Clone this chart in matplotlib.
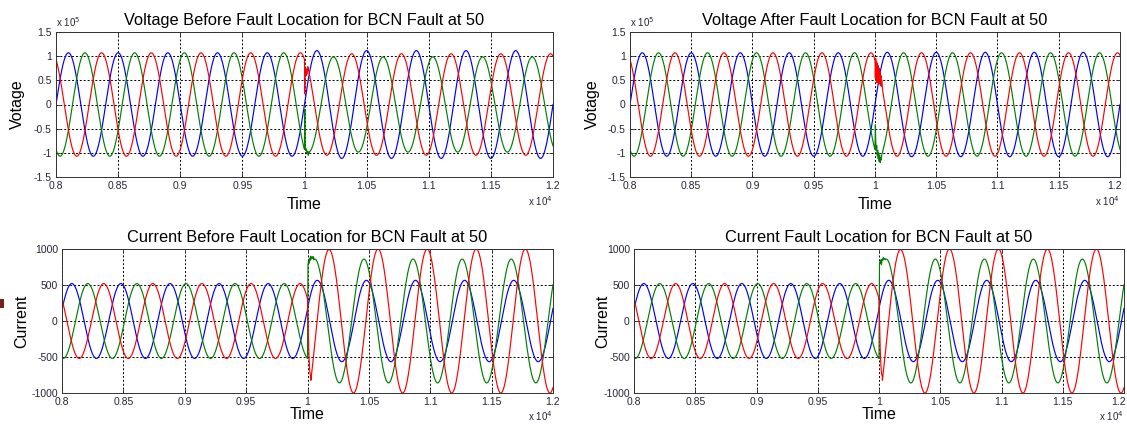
import numpy as np
import matplotlib
matplotlib.use("Agg")
import matplotlib.pyplot as plt
import matplotlib.transforms as mtransforms
from matplotlib.patches import Rectangle

# ---------------- data ----------------
x_ticks = [8000, 8500, 9000, 9500, 10000, 10500, 11000, 11500, 12000]
x_tick_labels = ["0.8", "0.85", "0.9", "0.95", "1", "1.05", "1.1", "1.15", "1.2"]
v_ticks = [-1.5e5, -1e5, -0.5e5, 0, 0.5e5, 1e5, 1.5e5]
v_tick_labels = ["-1.5", "-1", "-0.5", "0", "0.5", "1", "1.5"]
i_ticks = [-1000, -500, 0, 500, 1000]
i_tick_labels = ["-1000", "-500", "0", "500", "1000"]

titles = ["Voltage Before Fault Location for BCN Fault at 50",
          "Voltage After Fault Location for BCN Fault at 50",
          "Current Before Fault Location for BCN Fault at 50",
          "Current Fault Location for BCN Fault at 50"]
ylabels = ["Votage", "Votage", "Current", "Current"]
phase_colors = ["#0000ff", "#008000", "#ff0000"]   # phase order: blue, green, red

period = 400          # time units per cycle
t_start, t_end, t_fault = 8000, 12000, 10000

# voltage (blue, green, red)
v_pre_amp = [1.07e5, 1.07e5, 1.07e5]
v_pre_peak = [8100, 8233, 8367]
v_post_peak = [8100, 8233, 8380]
vb_post_amp = [1.115e5, 0.985e5, 1.05e5]     # "before" panel
va_post_amp = [1.08e5, 1.07e5, 1.07e5]       # "after" panel

# current (blue, green, red)
i_pre_amp = [520, 520, 520]
i_pre_peak = [8080, 8210, 8340]
i_post_amp = [565, 860, 1000]
i_post_peak = [8080, 8060, 8175]
i_red_offset = -250      # decaying offset of red current after fault
i_red_tau = 50

# fault transients: time after fault, value
vb_green_dt = [0, 2, 5, 10, 15, 20, 25, 30, 35, 40]
vb_green_v = [-0.93e5, -0.1e5, -0.85e5, -0.95e5, -0.92e5, -1.0e5, -0.97e5, -1.05e5, -0.98e5, -0.99e5]
vb_red_dt = [0, 2, 4, 7, 10, 13, 16, 19, 22, 26]
vb_red_v = [0.93e5, 0.22e5, 0.70e5, 0.62e5, 0.75e5, 0.60e5, 0.72e5, 0.63e5, 0.70e5, 0.76e5]

va_green_dt = [0, 3, 6, 10, 14, 18, 22, 26, 30, 34, 38, 42, 46, 50, 55, 60, 65, 70]
va_green_v = [-0.93e5, -0.42e5, -0.75e5, -0.95e5, -0.85e5, -1.05e5, -0.95e5, -1.12e5, -1.0e5,
              -1.18e5, -1.05e5, -1.2e5, -1.1e5, -1.15e5, -1.05e5, -1.0e5, -0.95e5, -0.9e5]
va_red_dt = [0, 3, 6, 10, 13, 16, 20, 23, 27, 30, 34, 37, 41, 44, 48, 51, 55, 60]
va_red_v = [0.93e5, 0.55e5, 0.95e5, 0.50e5, 0.88e5, 0.45e5, 0.85e5, 0.50e5, 0.80e5, 0.42e5,
            0.75e5, 0.45e5, 0.68e5, 0.40e5, 0.60e5, 0.38e5, 0.50e5, 0.35e5]

ib_green_dt = [0, 2, 4, 8, 12, 16, 20, 25, 30, 35, 40, 45, 50]
ib_green_v = [-520, 200, 780, 830, 800, 870, 840, 900, 860, 890, 870, 895, 880]
ib_red_dt = [0, 3, 6, 10, 14, 18, 22, 27]
ib_red_v = [306, 100, -150, -400, -560, -680, -740, -770]

ia_green_dt = [0, 2, 4, 8, 12, 16, 20, 25, 30, 35, 40, 45, 50]
ia_green_v = [-520, 250, 790, 820, 800, 850, 780, 860, 840, 880, 860, 870, 860]
ia_red_dt = [0, 3, 6, 10, 14, 18, 22, 27]
ia_red_v = [306, 100, -150, -400, -560, -680, -740, -770]


def wave(a_pre, p_pre, a_post, p_post, tr_dt=None, tr_v=None, off=0.0, tau=1.0):
    t1 = np.arange(t_start, t_fault + 0.01, 0.5)
    y1 = a_pre * np.cos(2 * np.pi * (t1 - p_pre) / period)
    ts, ys = [t1], [y1]
    t_post0 = t_fault
    if tr_dt:
        ts.append(t_fault + np.array(tr_dt, float))
        ys.append(np.array(tr_v, float))
        t_post0 = t_fault + tr_dt[-1]
    t2 = np.arange(t_post0 + 0.5, t_end + 0.01, 0.5)
    y2 = a_post * np.cos(2 * np.pi * (t2 - p_post) / period) + off * np.exp(-(t2 - t_fault) / tau)
    ts.append(t2)
    ys.append(y2)
    return np.concatenate(ts), np.concatenate(ys)


panel_lines = [
    [wave(v_pre_amp[0], v_pre_peak[0], vb_post_amp[0], v_post_peak[0]),
     wave(v_pre_amp[1], v_pre_peak[1], vb_post_amp[1], v_post_peak[1], vb_green_dt, vb_green_v),
     wave(v_pre_amp[2], v_pre_peak[2], vb_post_amp[2], v_post_peak[2], vb_red_dt, vb_red_v)],
    [wave(v_pre_amp[0], v_pre_peak[0], va_post_amp[0], v_post_peak[0]),
     wave(v_pre_amp[1], v_pre_peak[1], va_post_amp[1], v_post_peak[1], va_green_dt, va_green_v),
     wave(v_pre_amp[2], v_pre_peak[2], va_post_amp[2], v_post_peak[2], va_red_dt, va_red_v)],
    [wave(i_pre_amp[0], i_pre_peak[0], i_post_amp[0], i_post_peak[0]),
     wave(i_pre_amp[1], i_pre_peak[1], i_post_amp[1], i_post_peak[1], ib_green_dt, ib_green_v),
     wave(i_pre_amp[2], i_pre_peak[2], i_post_amp[2], i_post_peak[2], ib_red_dt, ib_red_v,
          i_red_offset, i_red_tau)],
    [wave(i_pre_amp[0], i_pre_peak[0], i_post_amp[0], i_post_peak[0]),
     wave(i_pre_amp[1], i_pre_peak[1], i_post_amp[1], i_post_peak[1], ia_green_dt, ia_green_v),
     wave(i_pre_amp[2], i_pre_peak[2], i_post_amp[2], i_post_peak[2], ia_red_dt, ia_red_v,
          i_red_offset, i_red_tau)],
]

# ---------------- layout ----------------
W, H = 1127, 425
fig = plt.figure(figsize=(W / 100, H / 100), dpi=100)
plt.rcParams['font.family'] = ['Liberation Sans', 'DejaVu Sans']

# (left, right, top, bottom) in pixels
boxes = [(56, 553, 32, 177), (630, 1120, 32, 177),
         (62, 553, 249, 393), (634, 1124, 249, 393)]
ylabel_x = [17, 592, 22, 603]
x10_base = [206, 206, 421, 421]
xlabel_pad = [4, 4, 0, 0]
tick_col = "#262636"

for k, (l, r, t, b) in enumerate(boxes):
    ax = fig.add_axes([l / W, 1 - b / H, (r - l) / W, (b - t) / H])
    for (tt, yy), c in zip(panel_lines[k], phase_colors):
        ax.plot(tt, yy, color=c, lw=0.85)
    ax.set_xlim(t_start, t_end)
    ax.set_xticks(x_ticks)
    ax.set_xticklabels(x_tick_labels)
    if k < 2:
        ax.set_ylim(-1.5e5, 1.5e5)
        ax.set_yticks(v_ticks)
        ax.set_yticklabels(v_tick_labels)
        fig.text(l / W, 1 - 27 / H, r"x 10$^{5}$", fontsize=7, color=tick_col,
                 ha="left", va="baseline")
    else:
        ax.set_ylim(-1000, 1000)
        ax.set_yticks(i_ticks)
        ax.set_yticklabels(i_tick_labels)
    ax.grid(True, color="k", linestyle=(0, (2, 2)), linewidth=0.7)
    ax.tick_params(direction="in", length=3, width=0.6, labelsize=7.5,
                   colors=tick_col, top=True, right=True, pad=3)
    ax.tick_params(axis="y", pad=3)
    for s in ax.spines.values():
        s.set_linewidth(0.7)
        s.set_color("#333333")
    ax.set_title(titles[k], fontsize=11.8, pad=5)
    ax.set_xlabel("Time", fontsize=11.5, labelpad=xlabel_pad[k])
    fig.text(ylabel_x[k] / W, 1 - ((t + b) / 2) / H, ylabels[k], rotation=90,
             fontsize=11.5, ha="center", va="center")
    fig.text(r / W, 1 - x10_base[k] / H, r"x 10$^{4}$", fontsize=7, color=tick_col,
             ha="right", va="baseline")
    if r > W - 8:
        # keep the last tick label inside the picture
        lab = ax.get_xticklabels()[-1]
        lab.set_transform(lab.get_transform() +
                          mtransforms.ScaledTranslation(-5 / 100, 0, fig.dpi_scale_trans))

# small mark at left edge of the picture
fig.patches.append(Rectangle((0, 1 - 308 / H), 4 / W, 9 / H, transform=fig.transFigure,
                             facecolor="#7a1f1f", edgecolor="none"))

fig.savefig("out.png", dpi=100)
